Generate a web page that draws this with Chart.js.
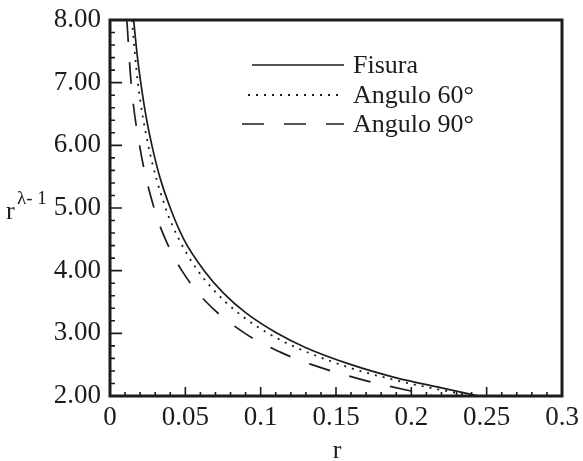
<!DOCTYPE html>
<html>
<head>
<meta charset="utf-8">
<script src="https://cdn.jsdelivr.net/npm/chart.js@4/dist/chart.umd.min.js"></script>
<style>
  html, body { margin: 0; padding: 0; background: #fff; }
  #wrap { width: 583px; height: 461px; }
</style>
</head>
<body>
<div id="wrap"><canvas id="chart"></canvas></div>
<script>
// values (r, r^(lambda-1))
const fisuraR  = [0.0157, 0.0180, 0.0204, 0.0240, 0.0278, 0.0330, 0.0400, 0.0490, 0.0625, 0.0750, 0.0900, 0.1110, 0.1300, 0.1600, 0.1900, 0.2200, 0.2450];
const fisuraY  = [8.00, 7.45, 7.00, 6.45, 6.00, 5.50, 5.00, 4.50, 4.00, 3.65, 3.33, 3.00, 2.77, 2.50, 2.29, 2.13, 2.00];
const ang60R   = [0.0145, 0.0185, 0.0254, 0.0369, 0.0458, 0.0583, 0.0767, 0.1050, 0.1530, 0.1900, 0.2400];
const ang60Y   = [8.00, 7.00, 6.00, 5.00, 4.50, 4.00, 3.50, 3.00, 2.50, 2.25, 2.00];
const ang90R   = [0.0112, 0.0140, 0.0196, 0.0292, 0.0368, 0.0477, 0.0639, 0.0896, 0.1130, 0.1340, 0.1690, 0.2150];
const ang90Y   = [8.00, 7.00, 6.00, 5.00, 4.50, 4.00, 3.50, 3.00, 2.70, 2.50, 2.25, 2.00];
const seriesNames = ['Fisura', 'Angulo 60°', 'Angulo 90°'];
const xTicks = [0, 0.05, 0.1, 0.15, 0.2, 0.25, 0.3];
const yTicks = [2, 3, 4, 5, 6, 7, 8];

const SERIF = '"Liberation Serif", "Times New Roman", serif';
const INK = '#1c1c1c';

const toPoints = (xs, ys) => xs.map((x, i) => ({ x: x, y: ys[i] }));

// frame with inward ticks (major + minor)
const framePlugin = {
    id: 'frame',
    afterDatasetsDraw(chart) {
        const { ctx, chartArea: a, scales: { x, y } } = chart;
        ctx.save();
        ctx.strokeStyle = INK;
        ctx.lineWidth = 1.6;
        ctx.beginPath();
        for (let i = 0; i <= 30; i++) {
            const px = x.getPixelForValue(i / 100);
            const len = i % 5 === 0 ? 9 : 4;
            ctx.moveTo(px, a.bottom);
            ctx.lineTo(px, a.bottom - len);
        }
        for (let i = 0; i <= 30; i++) {
            const py = y.getPixelForValue(2 + i * 0.2);
            const len = i % 5 === 0 ? 12 : 5;
            ctx.moveTo(a.left, py);
            ctx.lineTo(a.left + len, py);
        }
        ctx.stroke();
        ctx.lineWidth = 3;
        ctx.strokeRect(a.left, a.top, a.right - a.left, a.bottom - a.top);
        ctx.restore();
    }
};

// legend in the upper right of the plot + axis titles
const annotPlugin = {
    id: 'annot',
    afterDraw(chart) {
        const { ctx } = chart;
        ctx.save();
        const rows = [65, 95, 124];
        const starts = [252, 248, 242];
        chart.data.datasets.forEach((ds, i) => {
            ctx.strokeStyle = ds.borderColor;
            ctx.lineWidth = ds.borderWidth;
            ctx.setLineDash(ds.borderDash || []);
            ctx.beginPath();
            ctx.moveTo(starts[i], rows[i]);
            ctx.lineTo(344, rows[i]);
            ctx.stroke();
            ctx.setLineDash([]);
            ctx.fillStyle = INK;
            ctx.font = '26px ' + SERIF;
            ctx.textAlign = 'left';
            ctx.textBaseline = 'middle';
            ctx.fillText(ds.label, 353, rows[i] + 1);
        });

        // x title
        ctx.fillStyle = INK;
        ctx.font = '26px ' + SERIF;
        ctx.textAlign = 'center';
        ctx.textBaseline = 'alphabetic';
        ctx.fillText('r', 337, 458);

        // y title r^(λ-1)
        ctx.textAlign = 'left';
        ctx.fillText('r', 6, 219);
        ctx.font = '19px ' + SERIF;
        ctx.fillText('λ- 1', 17, 204);
        ctx.restore();
    }
};

new Chart(document.getElementById('chart'), {
    type: 'scatter',
    data: {
        datasets: [
            {
                label: seriesNames[0],
                data: toPoints(fisuraR, fisuraY),
                borderColor: INK,
                borderWidth: 1.7,
            },
            {
                label: seriesNames[1],
                data: toPoints(ang60R, ang60Y),
                borderColor: INK,
                borderWidth: 1.8,
                borderDash: [2, 6],
            },
            {
                label: seriesNames[2],
                data: toPoints(ang90R, ang90Y),
                borderColor: INK,
                borderWidth: 1.7,
                borderDash: [22, 20],
            }
        ].map(ds => Object.assign(ds, { showLine: true, pointRadius: 0, fill: false, cubicInterpolationMode: 'monotone' }))
    },
    options: {
        responsive: true,
        maintainAspectRatio: false,
        animation: false,
        layout: { padding: { left: 0, right: 21, top: 20, bottom: 0 } },
        plugins: {
            legend: { display: false },
            tooltip: { enabled: false }
        },
        scales: {
            x: {
                type: 'linear',
                min: 0,
                max: 0.3,
                afterBuildTicks: s => { s.ticks = xTicks.map(v => ({ value: v })); },
                afterFit: s => { s.height = 65; s.paddingLeft = 0; s.paddingRight = 0; },
                ticks: {
                    color: INK,
                    font: { family: SERIF, size: 27 },
                    padding: 6,
                    maxRotation: 0,
                    callback: v => String(v)
                },
                grid: { display: false, drawTicks: false },
                border: { display: false }
            },
            y: {
                type: 'linear',
                min: 2,
                max: 8,
                afterBuildTicks: s => { s.ticks = yTicks.map(v => ({ value: v })); },
                afterFit: s => { s.width = 110; s.paddingTop = 0; s.paddingBottom = 0; },
                ticks: {
                    color: INK,
                    font: { family: SERIF, size: 27 },
                    padding: 9,
                    callback: v => v.toFixed(2)
                },
                grid: { display: false, drawTicks: false },
                border: { display: false }
            }
        }
    },
    plugins: [framePlugin, annotPlugin]
});
</script>
</body>
</html>
